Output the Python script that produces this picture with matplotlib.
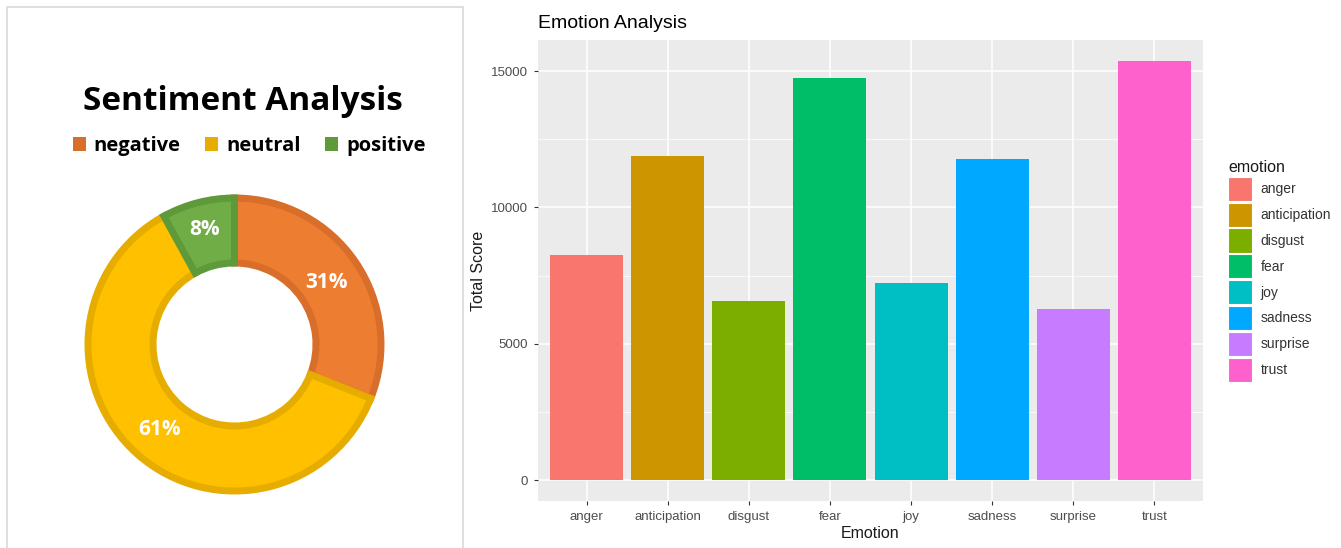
import numpy as np
import matplotlib
matplotlib.use("Agg")
import matplotlib.pyplot as plt
from matplotlib.patches import Patch, Rectangle

#############################################
# Data
#############################################
sentiments = ["negative", "neutral", "positive"]
sentiment_pct = [31, 61, 8]
sentiment_fill = ["#ED7D31", "#FFC000", "#70AD47"]
sentiment_edge = ["#D86E2A", "#E6AC00", "#5E9A3A"]

emotions = ["anger", "anticipation", "disgust", "fear", "joy",
            "sadness", "surprise", "trust"]
emotion_scores = [8250, 11870, 6560, 14740, 7220, 11790, 6270, 15370]
emotion_colors = ["#F8766D", "#CD9600", "#7CAE00", "#00BE67",
                  "#00BFC4", "#00A9FF", "#C77CFF", "#FF61CC"]

W, H = 1341, 548
fig = plt.figure(figsize=(W / 100, H / 100), dpi=100)
fig.patch.set_facecolor("white")

def fx(px):
    return px / W

def fy(py):
    return 1 - py / H

#############################################
# Left panel: sentiment doughnut
#############################################
fig.patches.append(Rectangle((fx(7), fy(560)), fx(456), fy(7) - fy(560),
                             transform=fig.transFigure, fill=False,
                             edgecolor="#D9D9D9", linewidth=1.2))

bold_font = {"family": "Open Sans", "weight": "bold"}
fig.text(fx(243), fy(101), "Sentiment Analysis", ha="center", va="center",
         fontsize=24, color="black", **bold_font)

handles = [Patch(facecolor=c, edgecolor="none") for c in sentiment_edge]
leg = fig.legend(handles, sentiments, ncol=3, loc="center",
                 bbox_to_anchor=(fx(249), fy(146)), frameon=False,
                 handlelength=0.65, handleheight=0.65, handletextpad=0.4,
                 columnspacing=1.2, prop={"family": "Open Sans", "weight": "bold",
                                          "size": 14.5})

cx, cy, half = 234.5, 344.5, 160
dax = fig.add_axes([fx(cx - half), fy(cy + half), fx(2 * half), 2 * half / H])

lw_px = 7
outer_r = 150 - lw_px / 2
inner_r = 78 + lw_px / 2
wedges, texts = dax.pie(sentiment_pct, radius=outer_r, startangle=90,
                        counterclock=False, colors=sentiment_fill,
                        wedgeprops=dict(width=outer_r - inner_r,
                                        linewidth=lw_px * 0.72,
                                        joinstyle="miter"))
for t in texts:
    t.remove()
for w, ec in zip(wedges, sentiment_edge):
    w.set_edgecolor(ec)
dax.set_xlim(-half, half)
dax.set_ylim(-half, half)
dax.axis("off")

# percentage labels
label_r = [111, 113, 119]
for w, pct, r in zip(wedges, sentiment_pct, label_r):
    mid = np.deg2rad((w.theta1 + w.theta2) / 2)
    dax.text(r * np.cos(mid), r * np.sin(mid), f"{pct}%", ha="center",
             va="center", color="white", fontsize=15, **bold_font)

#############################################
# Right panel: emotion bar chart (ggplot style)
#############################################
ax = fig.add_axes([fx(538), fy(501), fx(1203) - fx(538), fy(40) - fy(501)])
ax.set_facecolor("#EBEBEB")

x = np.arange(1, len(emotions) + 1)
ax.bar(x, emotion_scores, width=0.9, color=emotion_colors, zorder=3)

ymax = max(emotion_scores)
ax.set_ylim(-0.05 * ymax, 1.05 * ymax)
ax.set_xlim(0.4, len(emotions) + 0.6)

ax.set_yticks([0, 5000, 10000, 15000])
ax.set_yticks([2500, 7500, 12500], minor=True)
ax.set_xticks(x)
ax.set_xticklabels(emotions)

ax.grid(which="major", color="white", linewidth=1.1, zorder=0)
ax.grid(which="minor", axis="y", color="white", linewidth=0.55, zorder=0)
ax.set_axisbelow(True)
for s in ax.spines.values():
    s.set_visible(False)

ax.tick_params(axis="both", which="major", length=3, width=0.8,
               color="#333333", labelcolor="#4D4D4D", labelsize=9.5, pad=4)
ax.tick_params(axis="both", which="minor", length=0)
for lab in ax.get_xticklabels() + ax.get_yticklabels():
    lab.set_family("Liberation Sans")

ax.set_xlabel("Emotion", fontsize=11.5, family="Liberation Sans",
              color="#1A1A1A", labelpad=2)
ax.set_ylabel("Total Score", fontsize=11.5, family="Liberation Sans",
              color="#1A1A1A", labelpad=4)
fig.text(fx(538), fy(24), "Emotion Analysis", ha="left", va="center",
         fontsize=14, family="Liberation Sans", color="black")

ehandles = [Patch(facecolor=c, edgecolor="white", linewidth=0.8)
            for c in emotion_colors]
eleg = fig.legend(ehandles, emotions, loc="upper left",
                  bbox_to_anchor=(fx(1224), fy(156)), frameon=False,
                  title="emotion", alignment="left",
                  handlelength=1.75, handleheight=2.3, handletextpad=0.6,
                  labelspacing=0.12, borderaxespad=0, borderpad=0.3,
                  prop={"family": "Liberation Sans", "size": 10})
eleg.get_title().set_family("Liberation Sans")
eleg.get_title().set_fontsize(11.5)
eleg.get_title().set_color("#1A1A1A")
for t in eleg.get_texts():
    t.set_color("#333333")

plt.savefig("out.png", dpi=100)
plt.close()
